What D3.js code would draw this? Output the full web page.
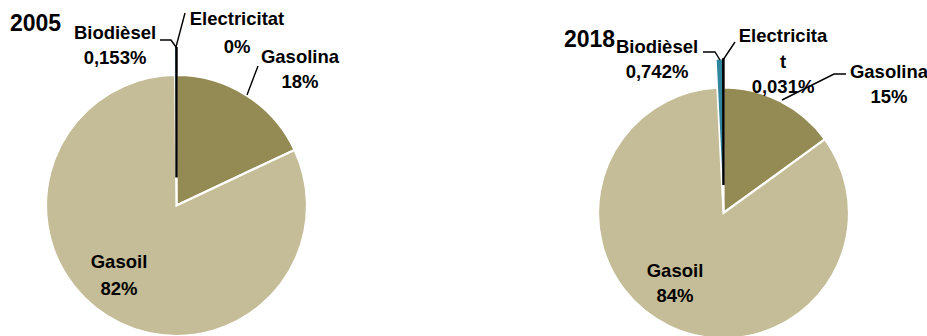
<!DOCTYPE html>
<html>
<head>
<meta charset="utf-8">
<script src="https://cdn.jsdelivr.net/npm/d3@7"></script>
<style>
  body { margin: 0; background: #fff; }
  text { font-family: "Liberation Sans", Arial, sans-serif; font-weight: bold; fill: #000; }
</style>
</head>
<body>
<div id="chart"></div>
<script>
// data
var years = ['2005', '2018'];
var categories = ['Gasolina', 'Gasoil', 'Biodièsel', 'Electricitat'];
var values2005 = [18, 81.847, 0.153, 0];
var values2018 = [15, 84.227, 0.742, 0.031];
var labels2005 = ['18%', '82%', '0,153%', '0%'];
var labels2018 = ['15%', '84%', '0,742%', '0,031%'];
var names2018 = ['Gasolina', 'Gasoil', 'Biodièsel', 'Electricita\nt'];

var colors = ['#948a54', '#c4bd97', '#31859c', '#000000'];
var explodeCats = ['Biodièsel', 'Electricitat'];

var width = 927, height = 336;

// layout per pie: centre, radius, title, label anchors (middle) and leader paths
var layout = [
	{
		cx: 176.5, cy: 205.5, r: 130.5, explode: 28,
		title: { x: 10, y: 31 },
		labels: [
			{ x: 300, y: 63, gap: 25, anchor: 'middle' },
			{ x: 119, y: 268, gap: 27, anchor: 'middle' },
			{ x: 115, y: 39, gap: 25, anchor: 'middle' },
			{ x: 237, y: 25, gap: 28, anchor: 'middle' }
		],
		leaders: [
			[[258, 66], [247, 95]],
			null,
			[[160, 40], [171, 40], [176, 47]],
			[[176, 47], [185, 13]]
		]
	},
	{
		cx: 723.5, cy: 213, r: 125.5, explode: 28,
		title: { x: 564, y: 47 },
		labels: [
			{ x: 889, y: 78, gap: 25, anchor: 'middle' },
			{ x: 675, y: 277, gap: 25, anchor: 'middle' },
			{ x: 657, y: 53, gap: 25, anchor: 'middle' },
			{ x: 783, y: 42, gap: 25.5, anchor: 'middle' }
		],
		leaders: [
			[[782, 100], [834, 74], [846, 74]],
			null,
			[[703, 52], [715, 52], [720, 60]],
			[[723, 60], [735, 42]]
		]
	}
];

var series = [
	{ year: years[0], values: values2005, labels: labels2005, names: categories },
	{ year: years[1], values: values2018, labels: labels2018, names: names2018 }
];

var svg = d3.select('#chart')
			.append('svg')
			.attr('width', width)
			.attr('height', height);

var pie = d3.pie().sort(null).value(d => d.value);

series.forEach((s, si) => {
	var L = layout[si];
	var data = categories.map((c, i) => ({ cat: c, value: s.values[i], idx: i }));
	var arc = d3.arc().innerRadius(0).outerRadius(L.r);

	var g = svg.append('g')
				.attr('transform', 'translate(' + L.cx + ',' + L.cy + ')');

	g.selectAll('path')
		.data(pie(data))
		.enter()
		.append('path')
			.attr('d', arc)
			.attr('transform', d => {
				if (explodeCats.indexOf(d.data.cat) < 0) return null;
				var a = (d.startAngle + d.endAngle) / 2;
				return 'translate(' + (Math.sin(a) * L.explode) + ',' + (-Math.cos(a) * L.explode) + ')';
			})
			.attr('fill', d => colors[d.data.idx])
			.attr('stroke', d => d.data.cat == 'Electricitat' ? '#000' : (d.data.cat == 'Biodièsel' ? 'none' : '#fff'))
			.attr('stroke-width', d => d.data.cat == 'Electricitat' ? 2.4 : 2.2);

	// leader lines
	var line = d3.line();
	L.leaders.forEach(pts => {
		if (!pts) return;
		svg.append('path')
			.attr('d', line(pts))
			.attr('fill', 'none')
			.attr('stroke', '#000')
			.attr('stroke-width', 1.4);
	});

	// title
	svg.append('text')
		.attr('x', L.title.x)
		.attr('y', L.title.y)
		.style('font-size', '23px')
		.text(s.year);

	// labels
	data.forEach((d, i) => {
		var p = L.labels[i];
		var lines = s.names[i].split('\n').concat([s.labels[i]]);
		var t = svg.append('text')
					.attr('text-anchor', p.anchor)
					.style('font-size', '18.5px');
		lines.forEach((ln, k) => {
			t.append('tspan')
				.attr('x', p.x)
				.attr('y', p.y + k * p.gap)
				.text(ln);
		});
	});
});
</script>
</body>
</html>
